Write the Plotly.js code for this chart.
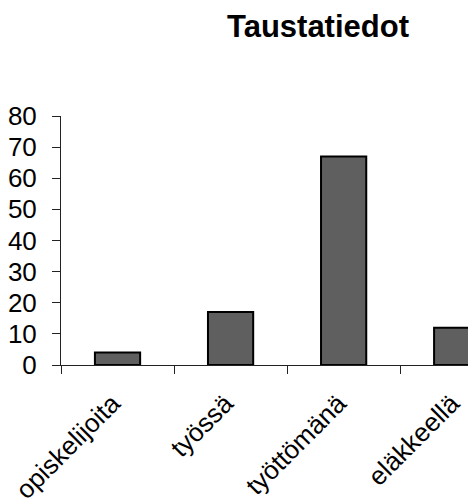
<!DOCTYPE html>
<html>
<head>
<meta charset="utf-8">
<script src="https://cdn.plot.ly/plotly-3.0.1.min.js"></script>
<style>html,body{margin:0;padding:0;background:#fff;}#chart{width:468px;height:504px;}</style>
</head>
<body>
<div id="chart"></div>
<script>
const categories = ["opiskelijoita", "työssä", "työttömänä", "eläkkeellä"];
const values = [4, 17, 67, 12];
const yTicks = [0, 10, 20, 30, 40, 50, 60, 70, 80];
const chartTitle = "Taustatiedot";

const font = "'Liberation Sans', Arial, sans-serif";

Plotly.newPlot("chart", [{
  type: "bar",
  x: categories,
  y: values,
  width: 0.4,
  marker: {color: "#5f5f5f", line: {color: "#000000", width: 2}},
  hoverinfo: "skip"
}], {
  width: 468,
  height: 504,
  margin: {l: 61, r: 0, t: 116, b: 139},
  paper_bgcolor: "#ffffff",
  plot_bgcolor: "#ffffff",
  showlegend: false,
  title: {
    text: "<b>" + chartTitle + "</b>",
    font: {family: font, size: 31, color: "#000"},
    x: 318 / 468, xanchor: "center", xref: "container",
    y: 1 - 26 / 504, yanchor: "middle", yref: "container"
  },
  xaxis: {
    type: "category",
    range: [-0.5, 3.1],
    showline: true, linecolor: "#222", linewidth: 1,
    ticks: "outside", ticklen: 8, tickcolor: "#222", tickwidth: 1,
    tickson: "boundaries",
    tickangle: -45,
    ticklabelstandoff: 12,
    ticklabelshift: -5,
    tickfont: {family: font, size: 26, color: "#000"},
    showgrid: false, zeroline: false, fixedrange: true
  },
  yaxis: {
    range: [0, 80],
    tickvals: yTicks,
    showline: true, linecolor: "#222", linewidth: 1,
    ticks: "outside", ticklen: 8, tickcolor: "#222", tickwidth: 1,
    ticklabelstandoff: 10,
    tickfont: {family: font, size: 26, color: "#000"},
    showgrid: false, zeroline: false, fixedrange: true
  }
}, {displayModeBar: false, staticPlot: true});
</script>
</body>
</html>
